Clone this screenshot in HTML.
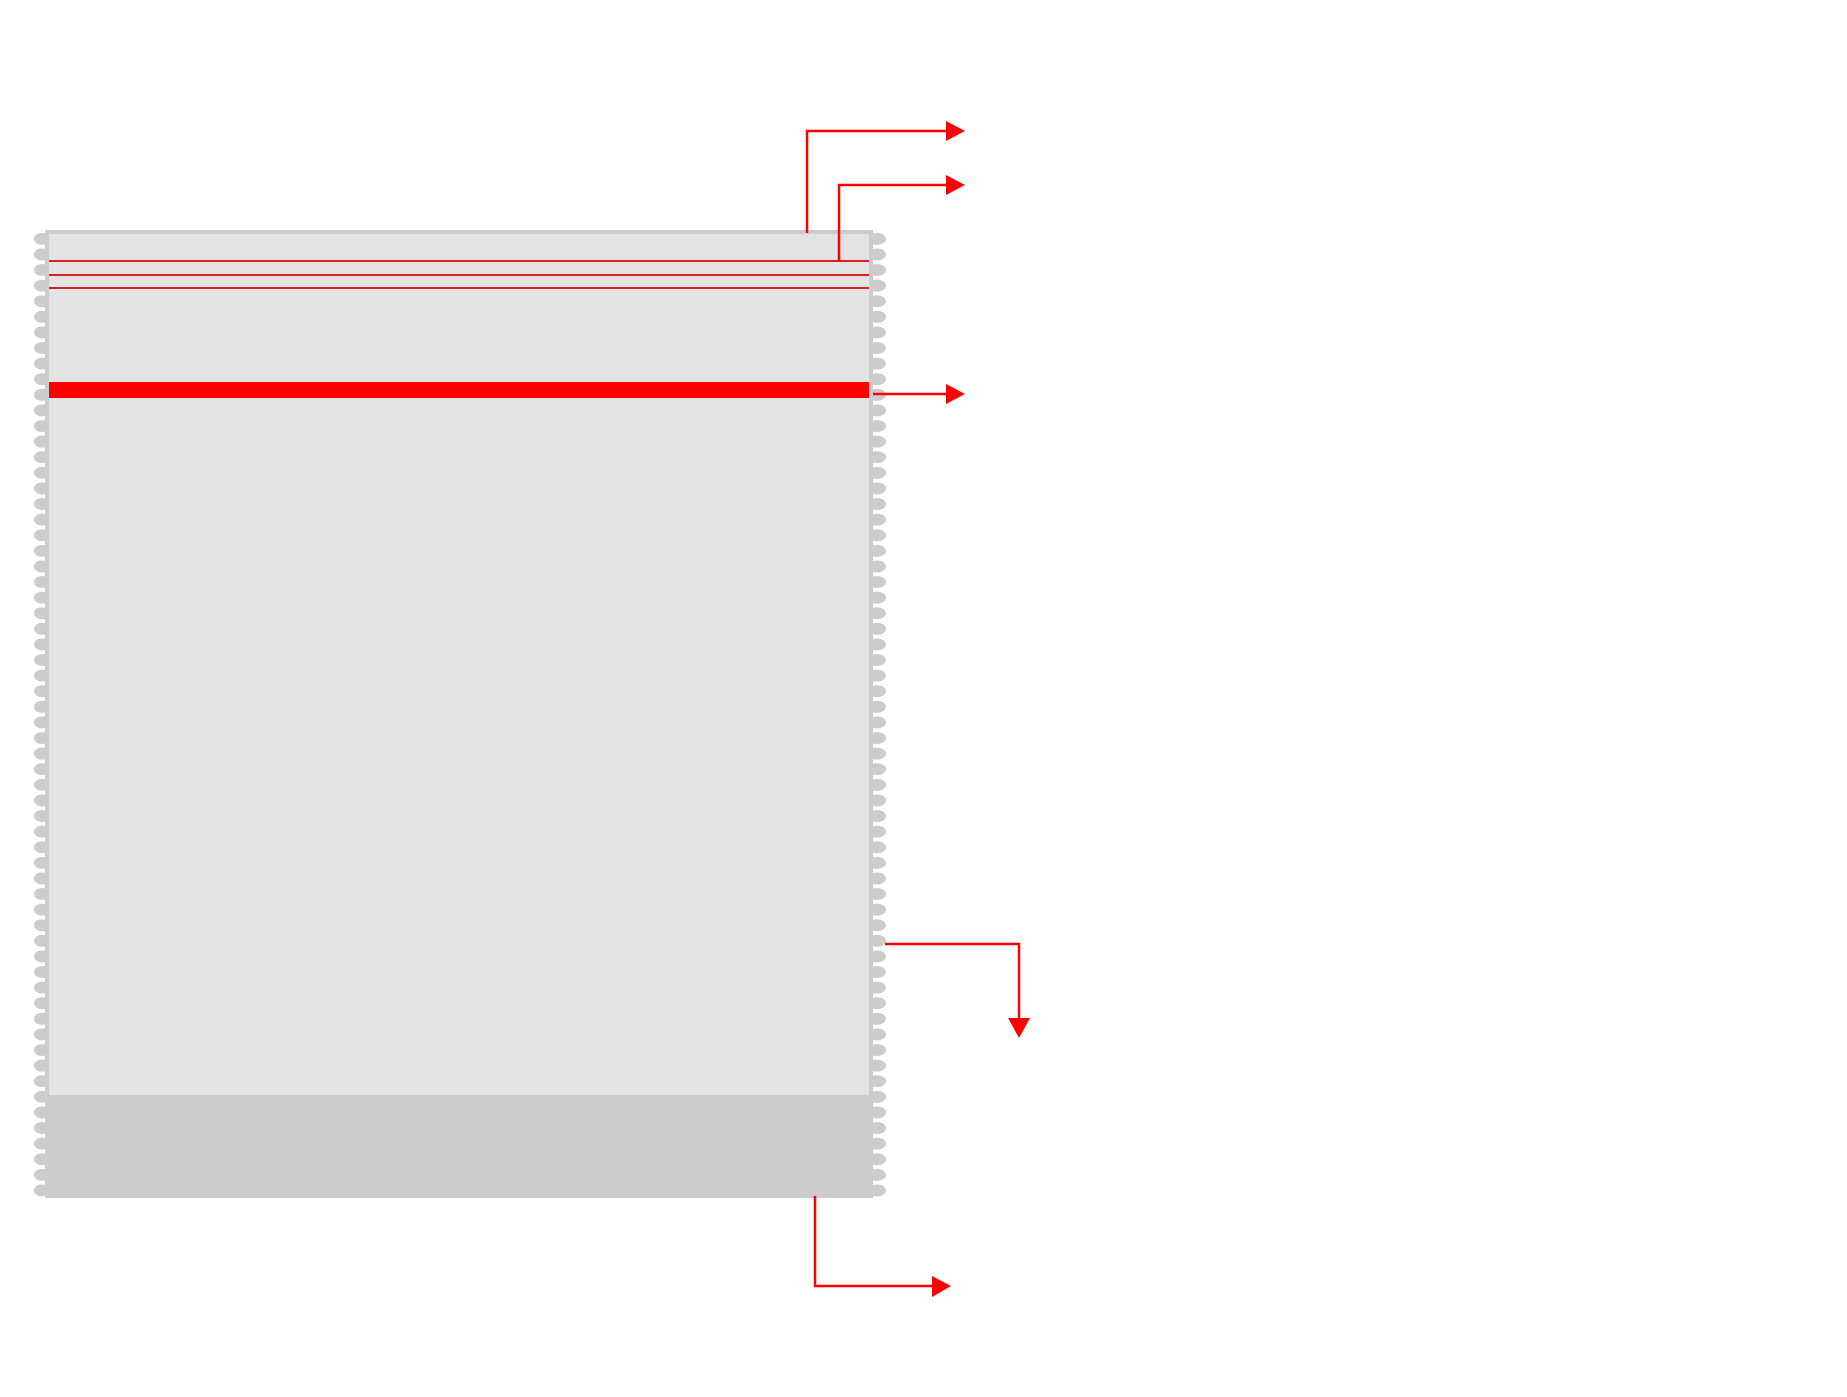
<!DOCTYPE html>
<html><head><style>html,body{margin:0;padding:0;background:#fff}svg{display:block}</style></head>
<body>
<svg width="1847" height="1397" viewBox="0 0 1847 1397" xmlns="http://www.w3.org/2000/svg">
<defs>
<pattern id="scL" x="32" y="231" width="20" height="15.6" patternUnits="userSpaceOnUse">
<ellipse cx="10" cy="7.8" rx="8" ry="6" fill="#cccccc"/>
</pattern>
<pattern id="scR" x="866" y="231" width="24" height="15.6" patternUnits="userSpaceOnUse">
<ellipse cx="11" cy="7.8" rx="9" ry="6" fill="#cccccc"/>
</pattern>
</defs>
<rect x="32" y="231" width="14" height="968" fill="url(#scL)"/>
<rect x="866" y="231" width="24" height="968" fill="url(#scR)"/>
<rect x="45" y="230" width="828" height="968" fill="#cccccc"/>
<rect x="49" y="234" width="820" height="861" fill="#e3e3e3"/>
<rect x="49" y="260" width="820" height="2" fill="#e02020"/>
<rect x="49" y="274" width="820" height="2" fill="#e02020"/>
<rect x="49" y="287" width="820" height="2" fill="#d02020"/>
<rect x="49" y="382" width="820" height="16" fill="#ff0000"/>
<g stroke="#ff0000" stroke-width="2.5" fill="none">
<polyline points="807,233 807,131 948,131"/>
<polyline points="839,261 839,185 948,185"/>
<polyline points="873,394 948,394"/>
<polyline points="885,944 1019,944 1019,1020"/>
<polyline points="815,1196 815,1286 934,1286"/>
</g>
<g fill="#ff0000">
<polygon points="946,121 965,131 946,141"/>
<polygon points="946,175 965,185 946,195"/>
<polygon points="946,384 965,394 946,404"/>
<polygon points="1008,1018 1030,1018 1019,1038"/>
<polygon points="932,1276 951,1286 932,1297"/>
</g>
</svg>
</body></html>
